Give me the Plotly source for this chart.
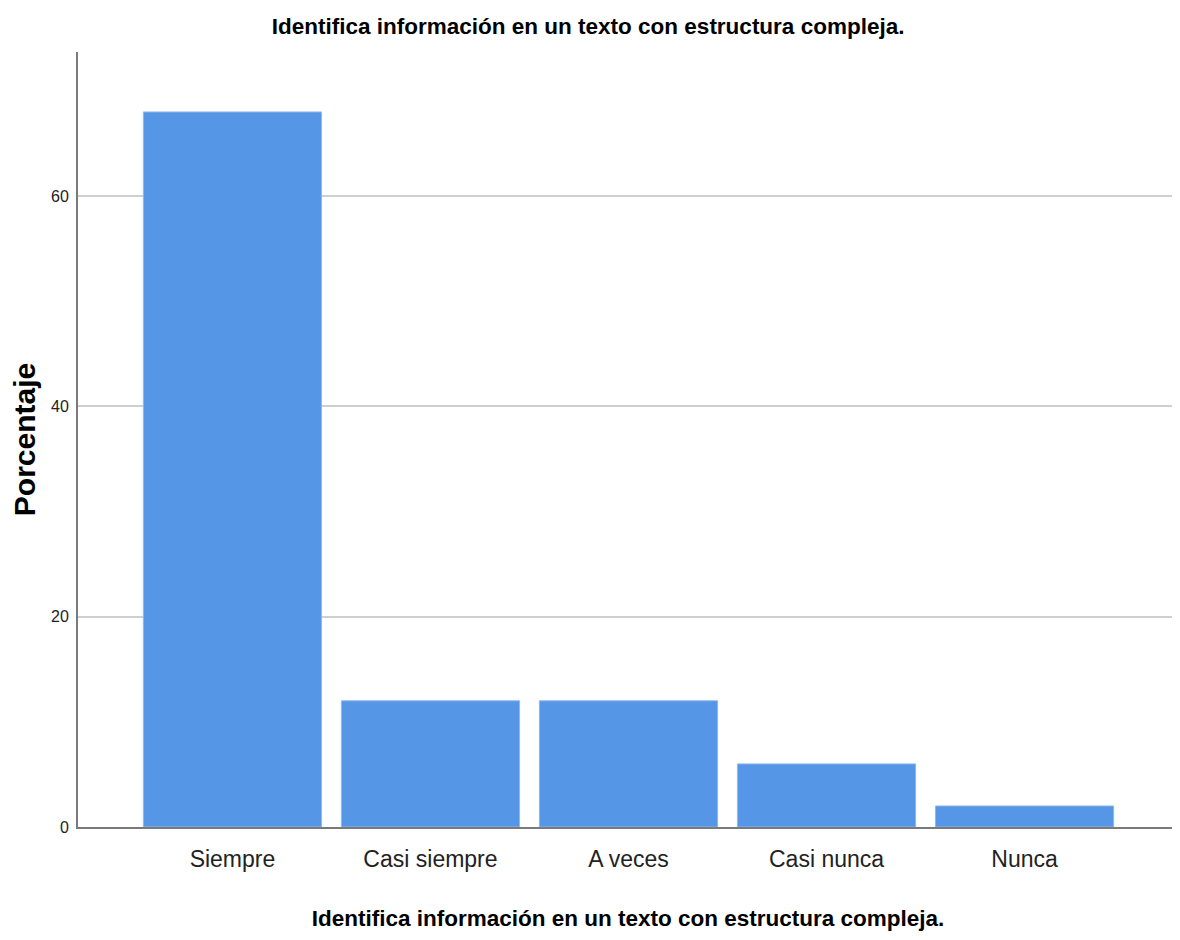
import plotly.graph_objects as go

categories = ["Siempre", "Casi siempre", "A veces", "Casi nunca", "Nunca"]
porcentaje = [68, 12, 12, 6, 2]
y_ticks = [0, 20, 40, 60]

title_text = "Identifica información en un texto con estructura compleja."
x_title = "Identifica información en un texto con estructura compleja."
y_title = "Porcentaje"

SANS = "Liberation Sans, Arial, sans-serif"

# page body has an 8px margin; size the figure so it ends at the window edge
W, H = 1172, 932

fig = go.Figure(
    go.Bar(
        x=categories,
        y=porcentaje,
        marker=dict(color="#5596E6", line=dict(color="#8DB9EE", width=1)),
        hoverinfo="x+y",
    )
)

fig.update_layout(
    width=W,
    height=H,
    paper_bgcolor="white",
    plot_bgcolor="white",
    bargap=0.1,
    showlegend=False,
    margin=dict(l=68, r=2, t=44, b=113),
    title=dict(
        text=title_text,
        x=0.495,
        xref="container",
        xanchor="center",
        y=0.981,
        yanchor="middle",
        font=dict(family=SANS, size=22.5, color="black", weight="bold"),
    ),
    xaxis=dict(
        range=[-0.78, 4.775],
        showline=True,
        linecolor="#7a7a7a",
        linewidth=2,
        showgrid=False,
        ticks="",
        ticklabelstandoff=10,
        tickfont=dict(family=SANS, size=23, color="#222222"),
        title=dict(
            text=x_title,
            standoff=40,
            font=dict(family=SANS, size=22.5, color="black", weight="bold"),
        ),
    ),
    yaxis=dict(
        range=[0, 73.7],
        tickvals=y_ticks,
        showline=True,
        linecolor="#7a7a7a",
        linewidth=2,
        showgrid=True,
        gridcolor="#cfcfcf",
        gridwidth=2,
        zeroline=False,
        ticks="",
        ticklabelstandoff=4,
        tickfont=dict(family=SANS, size=16, color="#222222"),
        title=dict(
            text=y_title,
            standoff=20,
            font=dict(family=SANS, size=30, color="black", weight="bold"),
        ),
    ),
)

fig.write_html("out.html")
